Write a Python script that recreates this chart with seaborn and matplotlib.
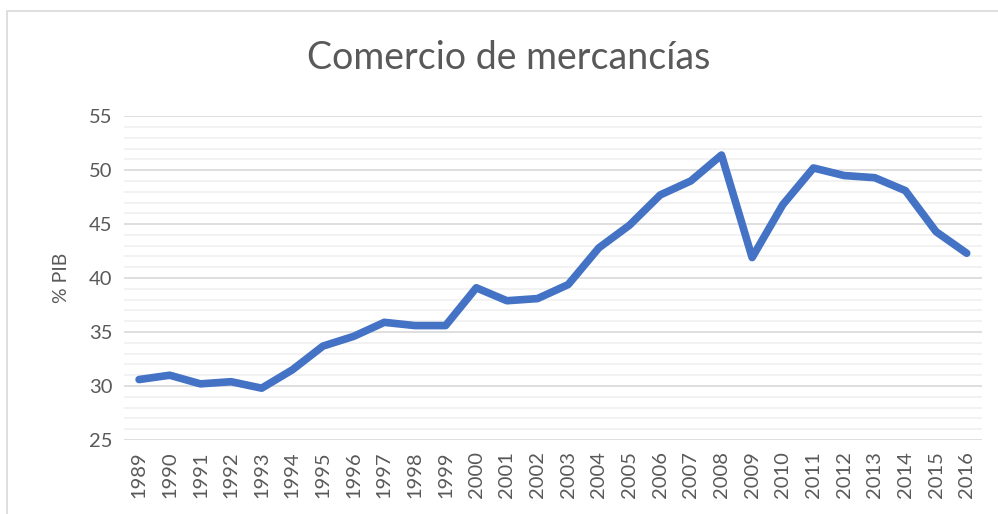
import pandas as pd
import matplotlib.pyplot as plt
import seaborn as sns
from matplotlib.ticker import MultipleLocator
from matplotlib.patches import Rectangle

# Datos
years = list(range(1989, 2017))
pct_pib = [30.6, 31.0, 30.2, 30.4, 29.8, 31.5, 33.7, 34.6, 35.9, 35.6,
           35.6, 39.1, 37.9, 38.1, 39.4, 42.8, 44.9, 47.7, 49.0, 51.4,
           41.9, 46.8, 50.2, 49.5, 49.3, 48.1, 44.3, 42.3]

df = pd.DataFrame({'year': years, 'pct': pct_pib})

sns.set_style('white')
plt.rcParams['font.family'] = ['Lato', 'DejaVu Sans']

fig = plt.figure(figsize=(9.98, 5.14), dpi=100)
ax = fig.add_axes([0.124, 0.144, 0.86, 0.63])

sns.lineplot(data=df, x='year', y='pct', ax=ax, color='#4472C4', linewidth=5.5,
             solid_capstyle='round', solid_joinstyle='round', zorder=3)

ax.set_ylim(25, 55)
ax.set_xlim(1988.5, 2016.5)
ax.yaxis.set_major_locator(MultipleLocator(5))
ax.yaxis.set_minor_locator(MultipleLocator(1))
ax.set_xticks(years)
ax.set_xticklabels([str(y) for y in years], rotation=90)
ax.grid(axis='y', which='major', color='#d9d9d9', linewidth=1.2, zorder=0)
ax.grid(axis='y', which='minor', color='#f0f0f0', linewidth=1.2, zorder=0)
ax.grid(axis='x', visible=False)
for s in ax.spines.values():
    s.set_visible(False)
ax.tick_params(axis='both', which='both', length=0, labelsize=14.5, colors='#595959', pad=8)

ax.set_xlabel('')
ax.set_ylabel('% PIB', fontsize=14, color='#595959', labelpad=14)

fig.text(0.51, 0.887, 'Comercio de mercancías', ha='center', va='center',
         fontsize=27, color='#595959')

# borde del área del gráfico
fig.patches.append(Rectangle((0.007, -0.01), 1.0, 0.989, transform=fig.transFigure,
                             fill=False, edgecolor='#d9d9d9', linewidth=1.2))

fig.savefig('out.png', dpi=100)
